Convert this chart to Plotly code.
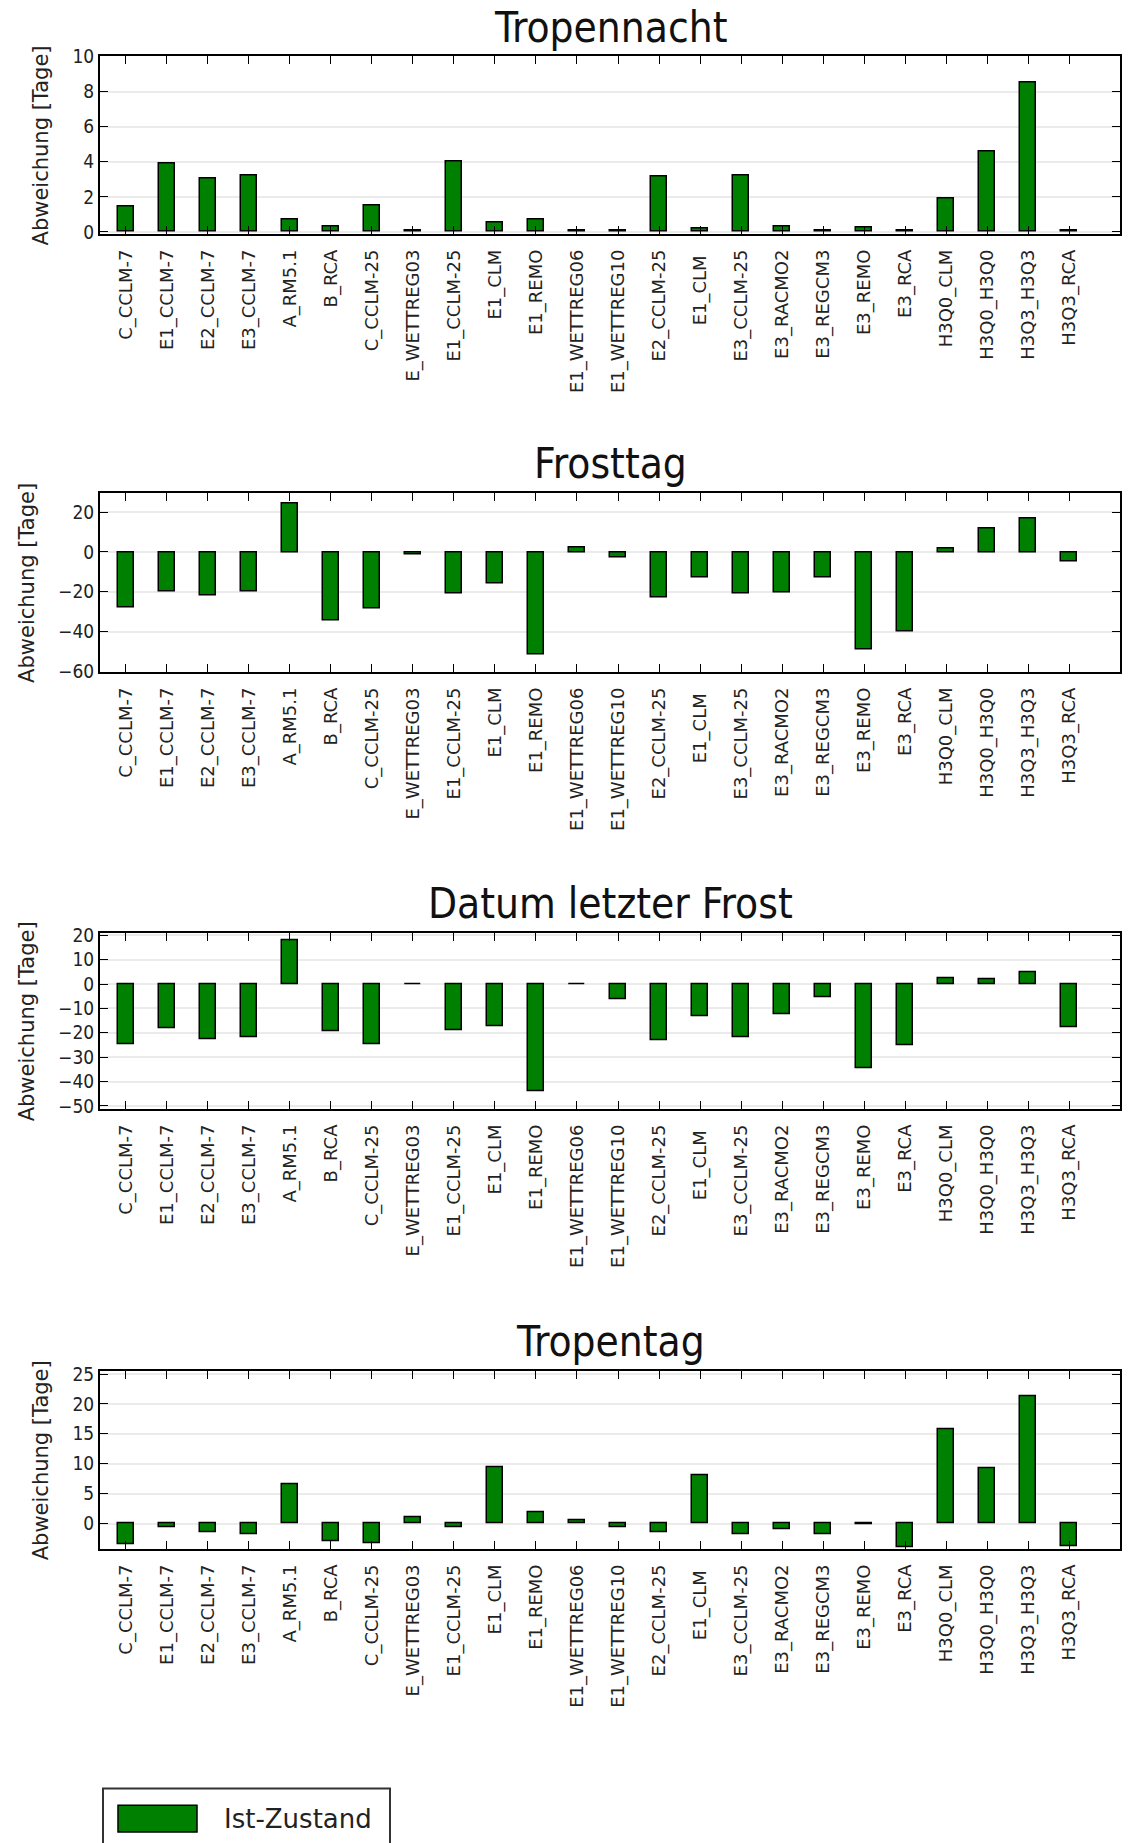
import plotly.graph_objects as go
from plotly.subplots import make_subplots

categories = ["C_CCLM-7", "E1_CCLM-7", "E2_CCLM-7", "E3_CCLM-7", "A_RM5.1", "B_RCA",
              "C_CCLM-25", "E_WETTREG03", "E1_CCLM-25", "E1_CLM", "E1_REMO",
              "E1_WETTREG06", "E1_WETTREG10", "E2_CCLM-25", "E1_CLM ", "E3_CCLM-25",
              "E3_RACMO2", "E3_REGCM3", "E3_REMO", "E3_RCA", "H3Q0_CLM", "H3Q0_H3Q0",
              "H3Q3_H3Q3", "H3Q3_RCA"]

tropennacht = [1.45, 3.9, 3.05, 3.2, 0.72, 0.34, 1.5, 0.1, 4.0, 0.53, 0.72, 0.1,
               0.1, 3.15, 0.2, 3.2, 0.32, 0.08, 0.27, 0.08, 1.92, 4.57, 8.53, 0.08]
frosttag = [-28, -19.7, -22, -20, 24.5, -34.3, -28.5, -1, -20.8, -16, -51.7, 2.5,
            -2.7, -23, -12.7, -20.8, -20.2, -13, -48.8, -39.7, 1.7, 12, 17, -4.7]
letzter_frost = [-24.7, -18.2, -22.7, -21.9, 17.8, -19.6, -24.9, -0.3, -19.2, -17.2,
                 -44, -0.3, -6.2, -23, -13.4, -21.9, -12.6, -5.3, -34.5, -25, 2.4, 2,
                 5, -17.8]
tropentag = [-3.4, -0.7, -1.5, -1.8, 6.6, -3.0, -3.3, 1.05, -0.7, 9.4, 1.8, 0.5,
             -0.7, -1.4, 8.1, -1.8, -1.0, -1.8, -0.1, -3.9, 15.7, 9.3, 21.3, -3.8]

titles = ["Tropennacht", "Frosttag", "Datum letzter Frost", "Tropentag"]
series = [tropennacht, frosttag, letzter_frost, tropentag]
y_ranges = [[-0.14, 10.0], [-60.5, 29.4], [-51.4, 20.8], [-4.3, 25.45]]
y_ticks = [[0, 2, 4, 6, 8, 10], [-60, -40, -20, 0, 20],
           [-50, -40, -30, -20, -10, 0, 10, 20], [0, 5, 10, 15, 20, 25]]
legend_label = "Ist-Zustand"

W, H = 1128, 1843
# pixel boxes (top, bottom) of each panel
boxes = [(46, 226), (488, 669), (933, 1111), (1376, 1556)]
x_left, x_right = 100, 1120
leg_top = 1798

fig = make_subplots(rows=4, cols=1)
font_main = "DejaVu Sans Condensed, DejaVu Sans, sans-serif"
font_reg = "DejaVu Sans, sans-serif"

xs = list(range(len(categories)))
for i, (vals, title) in enumerate(zip(series, titles)):
    r = i + 1
    fig.add_trace(go.Bar(x=xs, y=vals, width=0.4,
                         marker=dict(color="#008000", line=dict(color="black", width=1.5)),
                         showlegend=False, name=legend_label), row=r, col=1)
    top, bot = boxes[i]
    xa = "xaxis" if r == 1 else f"xaxis{r}"
    ya = "yaxis" if r == 1 else f"yaxis{r}"
    fig.layout[xa].update(domain=[x_left / W, x_right / W], range=[-0.63, 24.24],
                          tickmode="array", tickvals=xs, ticktext=categories,
                          tickangle=-90, ticks="inside", ticklen=8, tickwidth=1,
                          tickcolor="black", showline=True, linecolor="black",
                          linewidth=2, mirror="allticks", showgrid=False,
                          zeroline=False, ticklabelstandoff=6,
                          tickfont=dict(family=font_reg, size=18, color="#222"))
    fig.layout[ya].update(domain=[1 - bot / H, 1 - top / H], range=y_ranges[i],
                          tickmode="array", tickvals=y_ticks[i], ticks="inside",
                          ticklen=8, tickwidth=1, tickcolor="black", showline=True,
                          linecolor="black", linewidth=2, mirror="allticks",
                          showgrid=True, gridcolor="#ebebeb", gridwidth=2,
                          zeroline=False,
                          tickfont=dict(family=font_main, size=19, color="#222"),
                          title=dict(text="Abweichung [Tage]", standoff=18,
                                     font=dict(family=font_reg, size=21, color="#222")))
    fig.add_annotation(text=title, xref="paper", yref="paper",
                       x=(x_left + x_right) / 2 / W, y=1 - (top - 3) / H,
                       xanchor="center", yanchor="bottom", showarrow=False,
                       font=dict(family=font_main, size=42, color="#111"))

# legend box (drawn manually)
fig.add_shape(type="rect", xref="paper", yref="paper",
              x0=103 / W, x1=390 / W, y0=1 - (leg_top + 80) / H, y1=1 - leg_top / H,
              line=dict(color="#333", width=2), fillcolor="white")
fig.add_shape(type="rect", xref="paper", yref="paper",
              x0=118 / W, x1=197 / W, y0=1 - (leg_top + 44) / H, y1=1 - (leg_top + 17) / H,
              line=dict(color="black", width=1.5), fillcolor="#008000")
fig.add_annotation(text=legend_label, xref="paper", yref="paper",
                   x=222 / W, y=1 - (leg_top + 31) / H, xanchor="left", yanchor="middle",
                   showarrow=False, font=dict(family=font_reg, size=26, color="#222"))

fig.update_layout(width=W, height=H, margin=dict(l=0, r=0, t=0, b=0),
                  plot_bgcolor="white", paper_bgcolor="white", showlegend=False,
                  bargap=0)
fig.write_html("out.html")
